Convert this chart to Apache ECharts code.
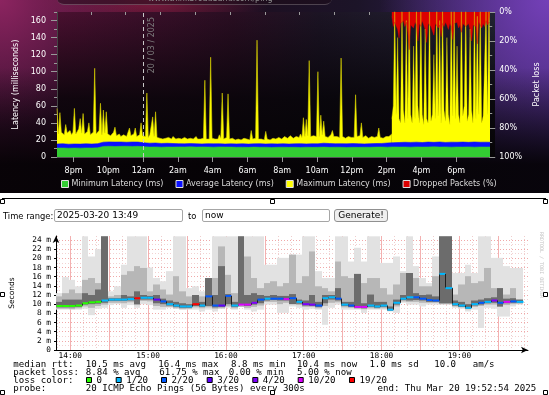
<!DOCTYPE html>
<html><head><meta charset="utf-8">
<script src="https://cdn.jsdelivr.net/npm/echarts@6.0.0/dist/echarts.min.js"></script>
<style>
html,body{margin:0;padding:0;width:549px;height:395px;overflow:hidden;background:#fff;}
#top{position:absolute;left:0;top:0;width:549px;height:193px;
background:
 linear-gradient(to bottom, rgba(0,0,0,0) 35%, rgba(4,2,4,0.92) 85%),
 radial-gradient(140px 130px at 0px 0px, #8c2460 0%, rgba(140,36,96,0) 100%),
 radial-gradient(170px 170px at 549px 0px, #7440b8 0%, rgba(116,64,184,0) 100%),
 radial-gradient(120px 40px at 150px 0px, rgba(150,30,70,0.8), rgba(150,30,70,0)),
 linear-gradient(to right, #3a1030, #1e0c1e 35%, #1c1428 65%, #3a2468);}
#plotbg{position:absolute;left:57px;top:12px;width:438px;height:145px;
background:
 linear-gradient(to bottom, rgba(0,0,0,0) 0%, rgba(6,4,8,0.85) 60%, #060406 100%),
 linear-gradient(to right, #4a1030 0%, #2a0e22 40%, #1c1424 60%, #222434 100%);}
#tab{position:absolute;left:57px;top:-8px;width:275px;height:12px;background:rgba(30,12,26,0.55);border-bottom:1px solid rgba(255,255,255,0.22);border-radius:0 0 7px 7px;}
#chart{position:absolute;left:0;top:0;width:549px;height:395px;}
.lbl{position:absolute;font:8.4px "DejaVu Sans";line-height:12px;color:#000;z-index:5;white-space:nowrap}
.inp{position:absolute;height:13px;box-sizing:border-box;border:1px solid #a6a6a6;border-radius:2px;font:9px "DejaVu Sans";line-height:11px;padding-left:2px;color:#000;background:#fff;z-index:5;white-space:nowrap}
.btn{position:absolute;height:13px;box-sizing:border-box;border:1px solid #909090;border-radius:3px;font:9px "DejaVu Sans";line-height:11px;text-align:center;color:#000;background:#efefef;z-index:5;white-space:nowrap}
</style></head>
<body>
<div id="top"></div>
<div id="plotbg"></div>
<div id="tab"></div>
<div class="lbl" style="left:3px;top:210px">Time range:</div>
<div class="inp" style="left:54px;top:209px;width:129px">2025-03-20 13:49</div>
<div class="lbl" style="left:188px;top:210px">to</div>
<div class="inp" style="left:202px;top:209px;width:128px">now</div>
<div class="btn" style="left:334px;top:209px;width:54px">Generate!</div>
<div id="chart"></div>
<script>
// ---------- Top chart data (hours since midnight of 19 Mar) ----------
const dayStart = 19.05, dayStep = 1/12;          // 5-minute samples until 14:18
const maxLatDay = [
 57,27,52,29,30,26,38,28,28,31,26,29,
 57,27,30,33,45,28,51,27,27,30,40,26,
 26,29,104,27,28,31,63,26,55,28,53,27,
 27,25,26,29,35,25,25,27,24,26,26,24,
 24,26,34,25,25,27,34,24,25,26,40,25,
 27,24,75,23,26,25,47,24,53,23,24,22,
 22,21,23,22,21,23,22,21,24,22,21,22,
 22,21,21,23,23,21,21,22,22,21,21,20,
 24,21,22,21,21,22,90,21,22,21,117,22,
 24,21,22,21,26,22,75,21,22,23,74,21,
 21,22,22,20,20,21,21,20,20,22,22,21,
 21,20,31,21,21,22,137,21,22,21,21,20,
 30,21,21,20,20,22,22,21,21,23,23,21,
 22,24,26,22,23,25,24,22,22,24,25,23,
 27,23,46,24,44,25,113,24,26,25,27,24,
 100,24,49,26,42,24,25,23,24,26,31,24,
 26,24,25,23,116,24,24,22,23,24,25,23,
 24,23,73,24,26,25,40,23,24,25,23,22,
 22,24,24,23,23,24,34,23,24,22,23,24,
 25,24,26,27];
const lossStart = 38.3, lossStep = 1/12;        // 5-minute samples
const maxLatLoss = [45,60,175,50,140,45,40,175,55,40,
 160,45,175,50,40,130,45,175,60,40,
 175,50,38,150,45,40,175,42,50,120,
 45,175,48,160,40,175,55,42,140,50,
 38,175,48,175,45,130,50,40,175,48,
 60,175,42,50,150,55,40,175,45,165,
 50,175,40,48,110,175,50,175,50];
const lossPct = [3,10,7,8,12,18,8,9,6,10,
 7,14,26,9,8,11,7,9,20,8,
 10,6,9,12,21,8,7,10,9,16,
 8,7,11,9,17,8,10,7,9,12,
 8,10,19,8,9,7,11,9,14,8,
 7,10,9,8,12,20,9,8,10,22,
 7,9,11,8,10,6,9,7,8];
const avgStart = 19.05, avgStep = 1/3;          // 20-minute samples
const minLat = [10.5,10.6,10.3,10.5,10.4,10.6,10.5,10.7,
 12.4,12.6,12.3,12.5,12.6,12.4,12.5,
 12.0,11.6,11.8,11.5,11.7,11.6,
 11.8,11.7,11.9,11.6,11.8,11.7,11.5,11.8,11.7,11.6,11.4,11.5,11.3,11.6,11.4,11.5,11.2,11.4,11.5,11.3,
 11.4,11.2,11.5,11.3,11.4,11.6,11.3,11.5,11.4,11.2,11.4,11.3,11.5,11.4,11.6,11.7,11.5,11.8,11.6,11.7,
 11.5,11.8,11.6,11.7,11.9,11.6,11.8,11.5,11.7,11.6,11.8,11.5,11.7,11.6,11.7];
const avgLat = [15.2,15.5,15.0,15.3,15.1,15.4,15.2,15.6,
 17.4,17.7,17.5,17.6,17.3,17.6,17.5,
 16.6,16.2,16.4,15.9,16.1,15.8,
 15.6,15.4,15.7,15.5,15.3,15.6,15.4,15.5,15.2,15.4,15.3,15.5,15.1,15.4,15.6,15.2,15.4,15.3,15.5,15.2,
 15.4,15.6,15.3,15.5,15.4,16.2,15.8,15.5,15.6,15.4,15.7,15.5,15.3,15.6,15.8,15.9,16.4,16.8,17.0,17.3,
 17.1,17.4,17.0,17.5,17.2,17.6,17.1,17.4,17.3,17.5,17.2,17.6,17.3,17.4,17.2];
const topHourLabels = [20,22,24,26,28,30,32,34,36,38,40,42];
const topHourMinor = [21,23,25,27,29,31,33,35,37,39,41,43];
const latTicks = [0,20,40,60,80,100,120,140,160];
const latMinor = [10,30,50,70,90,110,130,150,170];
const seriesNames = ['Minimum Latency (ms)','Average Latency (ms)','Maximum Latency (ms)','Dropped Packets (%)'];

// ---------- Smokeping data (5-minute steps from 13:49) ----------
const smokeStart = 13 + 49/60, smokeEnd = 19 + 52/60 + 54/3600, smokeStep = 1/12;
const median = [9.6,9.6,9.6,9.7,10.2,10.4,10.5,10.8,11.0,11.0,
 11.0,11.1,11.3,11.4,11.4,11.0,10.6,10.0,9.7,9.5,
 9.5,10.0,9.7,11.7,9.7,9.7,11.8,9.7,9.9,9.9,
 10.3,11.0,11.2,11.2,11.2,11.1,11.3,10.5,10.0,9.9,
 9.7,11.3,11.5,11.2,9.9,9.7,9.4,9.4,9.7,9.5,
 9.7,8.8,10.3,11.2,11.5,11.5,11.2,10.9,10.8,16.6,
 13.5,10.0,9.7,9.2,10.0,10.3,10.5,10.8,10.3,10.5,
 10.6,10.5];
const lossIdx = [0,0,0,0,0,0,0,1,1,1,
 1,1,6,1,1,3,2,1,1,1,
 1,6,1,2,2,3,2,1,5,5,
 4,2,1,2,2,5,2,1,4,4,
 2,1,1,2,1,2,5,5,1,1,
 1,1,1,1,1,2,2,2,2,1,
 1,1,1,1,1,2,1,4,2,5,
 2,1];
const lightHi = [12.4,15.9,15.3,13.9,24.8,20.4,22.0,24.8,12.8,13.9,
 18.6,24.8,24.8,24.8,18.0,15.7,15.0,17.2,24.8,24.8,
 13.5,13.9,12.8,15.7,24.8,24.8,24.8,24.8,24.8,24.8,
 24.8,24.8,18.6,18.6,20.1,20.1,20.8,20.8,24.8,24.8,
 17.2,15.7,15.7,24.8,24.8,19.3,22.3,19.3,24.8,24.8,
 19.0,19.0,20.4,17.2,24.8,18.3,15.7,14.6,20.4,24.8,
 24.8,16.8,16.8,18.6,16.8,24.8,24.8,20.1,20.1,18.3,
 17.9,17.9];
const midHi = [11.7,12.4,13.2,12.4,15.3,15.7,14.6,24.8,11.7,12.0,
 16.4,17.2,18.3,17.9,12.8,14.3,13.2,12.1,16.1,12.8,
 11.7,12.0,11.7,15.7,15.7,22.6,16.4,12.4,24.8,20.4,
 15.7,13.5,14.6,15.0,13.9,14.6,20.8,14.6,16.1,21.5,
 13.9,13.5,12.8,19.3,16.1,15.7,16.6,14.6,15.7,15.7,
 13.5,12.1,14.3,16.8,16.8,15.7,13.9,13.9,16.1,24.8,
 24.8,12.1,14.3,16.1,14.6,15.0,17.9,13.5,13.5,12.1,
 13.5,11.0];
const darkHi = [10.5,11.0,11.0,11.0,12.4,12.0,13.2,24.8,11.3,11.3,
 12.0,11.7,12.8,12.0,11.8,12.0,11.2,10.8,10.5,10.2,
 10.0,12.0,10.5,15.7,12.0,18.3,12.2,10.5,24.8,12.0,
 12.4,12.0,11.8,12.0,11.8,11.8,12.2,11.0,10.8,12.0,
 10.5,12.0,12.0,13.5,10.5,10.5,16.6,10.2,12.1,10.5,
 10.5,9.5,11.0,12.0,16.8,12.4,12.0,12.1,11.7,24.8,
 24.8,10.8,10.5,10.0,10.8,11.0,11.3,11.5,13.5,11.2,
 11.3,11.0];
const lightLo = [8.8,8.8,8.8,8.8,9.0,7.6,9.0,9.2,9.8,10.0,
 9.2,9.8,9.2,10.0,9.8,8.8,8.8,9.2,9.0,8.8,
 8.8,8.8,8.4,8.8,8.4,9.0,9.2,8.8,9.5,8.8,
 8.4,8.8,9.9,9.9,8.1,8.1,9.5,9.2,8.8,9.0,
 8.8,5.5,9.2,9.9,8.8,8.8,8.8,8.1,8.8,8.8,
 8.8,8.4,8.1,10.3,9.9,9.9,9.5,9.9,9.9,9.9,
 9.9,9.2,9.0,8.4,8.8,4.8,9.2,9.0,7.3,7.3,
 9.5,9.9];
const midLo = [9.0,9.0,8.9,9.1,9.5,9.2,9.6,9.9,10.3,10.3,
 10.2,10.4,9.8,10.7,10.6,9.6,9.4,9.4,9.1,8.9,
 9.0,9.3,9.1,9.3,9.0,9.1,9.5,9.1,9.4,9.2,
 9.4,9.7,10.5,10.5,10.0,10.3,10.2,9.8,9.4,9.4,
 9.1,9.6,10.3,10.4,9.3,9.2,9.0,8.9,9.1,9.0,
 9.1,8.6,9.5,10.6,10.5,10.5,10.3,10.3,10.3,10.0,
 10.0,9.5,9.3,8.9,9.4,9.6,9.9,9.9,9.4,9.8,
 10.0,10.1];
const darkLo = [9.3,9.3,9.3,9.4,9.9,10.0,10.1,10.3,10.7,10.7,
 10.7,10.8,10.0,11.0,11.0,10.2,10.0,9.7,9.4,9.2,
 9.2,9.6,9.4,9.6,9.3,9.4,10.0,9.4,9.9,9.6,
 9.9,10.2,10.8,10.9,10.8,10.8,10.0,10.1,9.7,9.6,
 9.4,10.2,11.0,10.8,9.6,9.4,9.2,9.1,9.4,9.2,
 9.4,8.6,9.9,10.9,10.8,10.9,10.8,10.5,10.5,10.2,
 10.2,9.7,9.4,9.0,9.7,9.9,10.2,10.3,9.5,10.2,
 10.3,10.3];
const smokeHourLabels = [14,15,16,17,18,19];
const smokeMajorX = [14,14.5,15,15.5,16,16.5,17,17.5,18,18.5,19,19.5];
const smokeMinorX = [];
for (let k = 83; k <= 119; k++) smokeMinorX.push(k/6);   // every 10 minutes
const secTicks = [0,2,4,6,8,10,12,14,16,18,20,22,24];
const secMinor = [1,3,5,7,9,11,13,15,17,19,21,23];
const lossLabels = ['0','1/20','2/20','3/20','4/20','10/20','19/20'];
const lossColors = ['#26ff00','#00b8ff','#0059ff','#5e00ff','#7e00ff','#dd00ff','#ff0000'];

// ---------- build series data ----------
const pts = (arr, t0, st) => arr.map((v, i) => [t0 + i*st, v]);
const smokeData = median.map((m, i) => [smokeStart + i*smokeStep, smokeStart + (i+1)*smokeStep,
  lightLo[i], lightHi[i], midLo[i], midHi[i], darkLo[i], darkHi[i]]);
const medData = median.map((m, i) => [smokeStart + i*smokeStep, smokeStart + (i+1)*smokeStep,
  m, i > 0 ? median[i-1] : m, lossIdx[i]]);

function hourLabel(v){ const h = Math.round(v) % 24; const h12 = h % 12 === 0 ? 12 : h % 12; return h12 + (h < 12 ? 'am' : 'pm'); }

const FONT = 'DejaVu Sans', MONO = 'DejaVu Sans Mono';
const areaSeries = (name, data, color, yi, lw, lc) => ({
  type:'line', name, data, xAxisIndex:0, yAxisIndex:yi, symbol:'none', showSymbol:false,
  lineStyle:{width:lw, color:lc || color}, itemStyle:{color}, areaStyle:{color, opacity:1}, silent:true, clip:true
});

const series = [
  areaSeries(seriesNames[2], pts(maxLatDay, dayStart, dayStep), '#ffff00', 0, 0.6, '#d9d200'),
  areaSeries(seriesNames[2], pts(maxLatLoss, lossStart, lossStep), '#ffff00', 0, 0.4, '#e6e000'),
  areaSeries(seriesNames[1], pts(avgLat, avgStart, avgStep), '#0a10ff', 0, 0.6),
  Object.assign(areaSeries(seriesNames[0], pts(minLat, avgStart, avgStep), '#33cc33', 0, 0.6), {
    markLine:{silent:true, symbol:'none', data:[{xAxis:24}],
      lineStyle:{color:'#c8c8c8', type:[4,3], width:1},
      label:{show:true, formatter:'20 / 03 / 2025', position:'insideEndBottom', color:'#7e7e7e', fontSize:8, fontFamily:FONT}}
  }),
  areaSeries(seriesNames[3], pts(lossPct, lossStart, lossStep), '#dd0000', 1, 0.4),
  {
    type:'custom', xAxisIndex:2, yAxisIndex:3, data:smokeData, silent:true, clip:true,
    encode:{x:[0,1], y:[2,3,4,5,6,7]},
    renderItem:(params, api) => {
      const t0 = api.value(0), t1 = api.value(1);
      const layers = [[2,3,'#e2e2e2'],[4,5,'#b7b7b7'],[6,7,'#6c6c6c']];
      return {type:'group', children: layers.map(([a,b,c]) => {
        const p0 = api.coord([t0, api.value(b)]), p1 = api.coord([t1, api.value(a)]);
        const x0 = Math.round(p0[0]), x1 = Math.round(p1[0]);
        return {type:'rect', shape:{x:x0, y:p0[1], width:x1-x0, height:p1[1]-p0[1]}, style:{fill:c}};
      })};
    }
  },
  {
    type:'custom', xAxisIndex:2, yAxisIndex:3, data:medData, silent:true, clip:true, z:3,
    encode:{x:[0,1], y:[2]},
    renderItem:(params, api) => {
      const t0 = api.value(0), t1 = api.value(1), m = api.value(2), pm = api.value(3), li = api.value(4);
      const a = api.coord([t0, m]), b = api.coord([t1, m]), c = api.coord([t0, pm]);
      const xa = Math.round(a[0]) + 0.5, xb = Math.round(b[0]) + 0.5;
      return {type:'group', children:[
        {type:'line', shape:{x1:xa, y1:c[1], x2:xa, y2:a[1]}, style:{stroke:'#202020', lineWidth:1}},
        {type:'line', shape:{x1:xa, y1:a[1], x2:xb, y2:b[1]}, style:{stroke:lossColors[li], lineWidth:2}}
      ]};
    }
  }
];

// ---------- graphic texts (bottom legend lines) ----------
const monoFont = '9.1px "DejaVu Sans Mono"';
const line1 = [['median rtt:',13.3],['10.5 ms avg',85.8],['16.4 ms max',158.3],['8.8 ms min',231],['10.4 ms now',297],['1.0 ms sd',369.4],['10.0',434.2],['am/s',472.7]];
const line2 = [['packet loss:',13.3],['8.84 % avg',85.8],['61.75 % max',159.3],['0.00 % min',228.8],['5.00 % now',297]];
const line4 = [['probe:',13.3],['20 ICMP Echo Pings (56 Bytes) every 300s',85.8],['end: Thu Mar 20 19:52:54 2025',377.5]];
const boxX = [86, 115.7, 161, 206.7, 252.3, 297.7, 349];
const graphics = [];
const addLine = (arr, y) => arr.forEach(([t, x]) => graphics.push({type:'text', x, y, silent:true,
  style:{text:t, font:monoFont, fill:'#000', verticalAlign:'middle'}}));
addLine(line1, 364.3); addLine(line2, 372.3); addLine([['loss color:',13.3]], 380.3); addLine(line4, 388.3);
lossLabels.forEach((t, i) => {
  graphics.push({type:'rect', silent:true, shape:{x:boxX[i]+0.5, y:377.5, width:5, height:5}, style:{fill:lossColors[i], stroke:'#000', lineWidth:1}});
  graphics.push({type:'text', silent:true, x:boxX[i]+10.5, y:380.3, style:{text:t, font:monoFont, fill:'#000', verticalAlign:'middle'}});
});
graphics.push({type:'text', silent:true, x:541, y:232, rotation:-Math.PI/2,
  style:{text:'RRDTOOL / TOBI OETIKER', font:'5px "DejaVu Sans Mono"', fill:'#c4c4c4', verticalAlign:'middle'}});
graphics.push({type:'text', silent:true, x:148, y:-1, style:{text:'www.thinkbroadband.com/ping', font:'8px "DejaVu Sans"', fill:'#8f8f8f', verticalAlign:'middle'}});
graphics.push({type:'line', silent:true, shape:{x1:2, y1:198.5, x2:546, y2:198.5}, style:{stroke:'#000', lineWidth:1}});
[[0,199],[270,199],[543,199],[0,292],[543,292],[0,390],[270,390],[543,390]].forEach(([x,y]) =>
  graphics.push({type:'rect', silent:true, shape:{x:x+0.5, y:y+0.5, width:4, height:4}, style:{fill:'#fff', stroke:'#000', lineWidth:1}}));

const option = {
  animation:false,
  backgroundColor:'transparent',
  grid:[
    {left:57, top:12, width:438, height:145, containLabel:false},
    {left:53, top:236, width:475, height:114, containLabel:false}
  ],
  legend:{
    data:[
      {name:seriesNames[0], itemStyle:{color:'#33cc33', borderColor:'#e0e0e0', borderWidth:1}},
      {name:seriesNames[1], itemStyle:{color:'#0a10ff', borderColor:'#e0e0e0', borderWidth:1}},
      {name:seriesNames[2], itemStyle:{color:'#ffff00', borderColor:'#e0e0e0', borderWidth:1}},
      {name:seriesNames[3], itemStyle:{color:'#dd0000', borderColor:'#e0e0e0', borderWidth:1}}
    ],
    left:61, top:180, padding:0, icon:'rect', itemWidth:7, itemHeight:7, itemGap:12, selectedMode:false,
    textStyle:{color:'#dcdcdc', fontSize:8, fontFamily:FONT, padding:[0,0,0,-2]}
  },
  xAxis:[
    {type:'value', gridIndex:0, min:dayStart, max:43.9, position:'bottom',
     axisLine:{show:true, lineStyle:{color:'#555'}},
     axisTick:{show:true, length:5, customValues:topHourLabels, lineStyle:{color:'#999'}},
     axisLabel:{customValues:topHourLabels, formatter:hourLabel, color:'#fff', fontSize:8, fontFamily:FONT, margin:10},
     splitLine:{show:false}},
    {type:'value', gridIndex:0, min:dayStart, max:43.9, position:'bottom',
     axisLine:{show:false}, axisLabel:{show:false}, splitLine:{show:false},
     axisTick:{show:true, length:3, customValues:topHourMinor, lineStyle:{color:'#999'}}},
    {type:'value', gridIndex:1, min:smokeStart, max:smokeEnd, position:'bottom',
     axisLine:{show:true, symbol:['none','arrow'], symbolSize:[5,7], lineStyle:{color:'#000', width:1}},
     axisTick:{show:false, customValues:smokeMajorX},
     axisLabel:{customValues:smokeHourLabels, formatter:v => v + ':00', color:'#000', fontSize:7.8, fontFamily:MONO, margin:2},
     splitLine:{show:true, lineStyle:{color:'#f3b0b0', width:1, type:'solid'}}, z:1},
    {type:'value', gridIndex:1, min:smokeStart, max:smokeEnd, position:'bottom',
     axisLine:{show:false}, axisLabel:{show:false}, axisTick:{show:false, customValues:smokeMinorX},
     splitLine:{show:true, lineStyle:{color:'#efcccc', width:1, type:[1,2]}}, z:0}
  ],
  yAxis:[
    {type:'value', gridIndex:0, min:0, max:170, position:'left',
     name:'Latency (milliseconds)', nameLocation:'middle', nameGap:37, nameRotate:90,
     nameTextStyle:{color:'#fff', fontSize:8, fontFamily:FONT},
     axisLine:{show:true, lineStyle:{color:'#444'}},
     axisTick:{show:true, length:6, customValues:latTicks, lineStyle:{color:'#999'}},
     axisLabel:{customValues:latTicks, color:'#fff', fontSize:8, fontFamily:FONT, margin:11},
     splitLine:{show:false}},
    {type:'value', gridIndex:0, min:0, max:100, interval:20, inverse:true, position:'right',
     name:'Packet loss', nameLocation:'middle', nameGap:39, nameRotate:90,
     nameTextStyle:{color:'#fff', fontSize:8, fontFamily:FONT},
     axisLine:{show:true, lineStyle:{color:'#555'}},
     axisTick:{show:true, length:6, lineStyle:{color:'#999'}},
     minorTick:{show:true, splitNumber:2, length:3, lineStyle:{color:'#999'}},
     axisLabel:{formatter:'{value}%', color:'#fff', fontSize:8, fontFamily:FONT, margin:10},
     splitLine:{show:false}, minorSplitLine:{show:false}},
    {type:'value', gridIndex:0, min:0, max:170, position:'left',
     axisLine:{show:false}, axisLabel:{show:false}, splitLine:{show:false},
     axisTick:{show:true, length:3, customValues:latMinor, lineStyle:{color:'#999'}}},
    {type:'value', gridIndex:1, min:0, max:24.87, position:'left',
     name:'Seconds', nameLocation:'middle', nameGap:40, nameRotate:90,
     nameTextStyle:{color:'#000', fontSize:7.5, fontFamily:FONT},
     axisLine:{show:true, symbol:['none','arrow'], symbolSize:[5,7], lineStyle:{color:'#000', width:1}},
     axisTick:{show:true, length:2, customValues:secTicks, lineStyle:{color:'#000'}},
     axisLabel:{customValues:secTicks, formatter:v => v === 0 ? '0' : v + ' m', color:'#000', fontSize:7.8, fontFamily:MONO, margin:5},
     splitLine:{show:true, lineStyle:{color:'#f0a8a8', width:1, type:[1,2]}}, z:1},
    {type:'value', gridIndex:1, min:0, max:24.87, position:'left',
     axisLine:{show:false}, axisLabel:{show:false}, axisTick:{show:false, customValues:secMinor},
     splitLine:{show:true, lineStyle:{color:'#f2d2d2', width:1, type:[1,2]}}, z:0}
  ],
  series,
  graphic:graphics
};
const chart = echarts.init(document.getElementById('chart'), null, {renderer:'canvas'});
chart.setOption(option);
</script>
</body></html>
